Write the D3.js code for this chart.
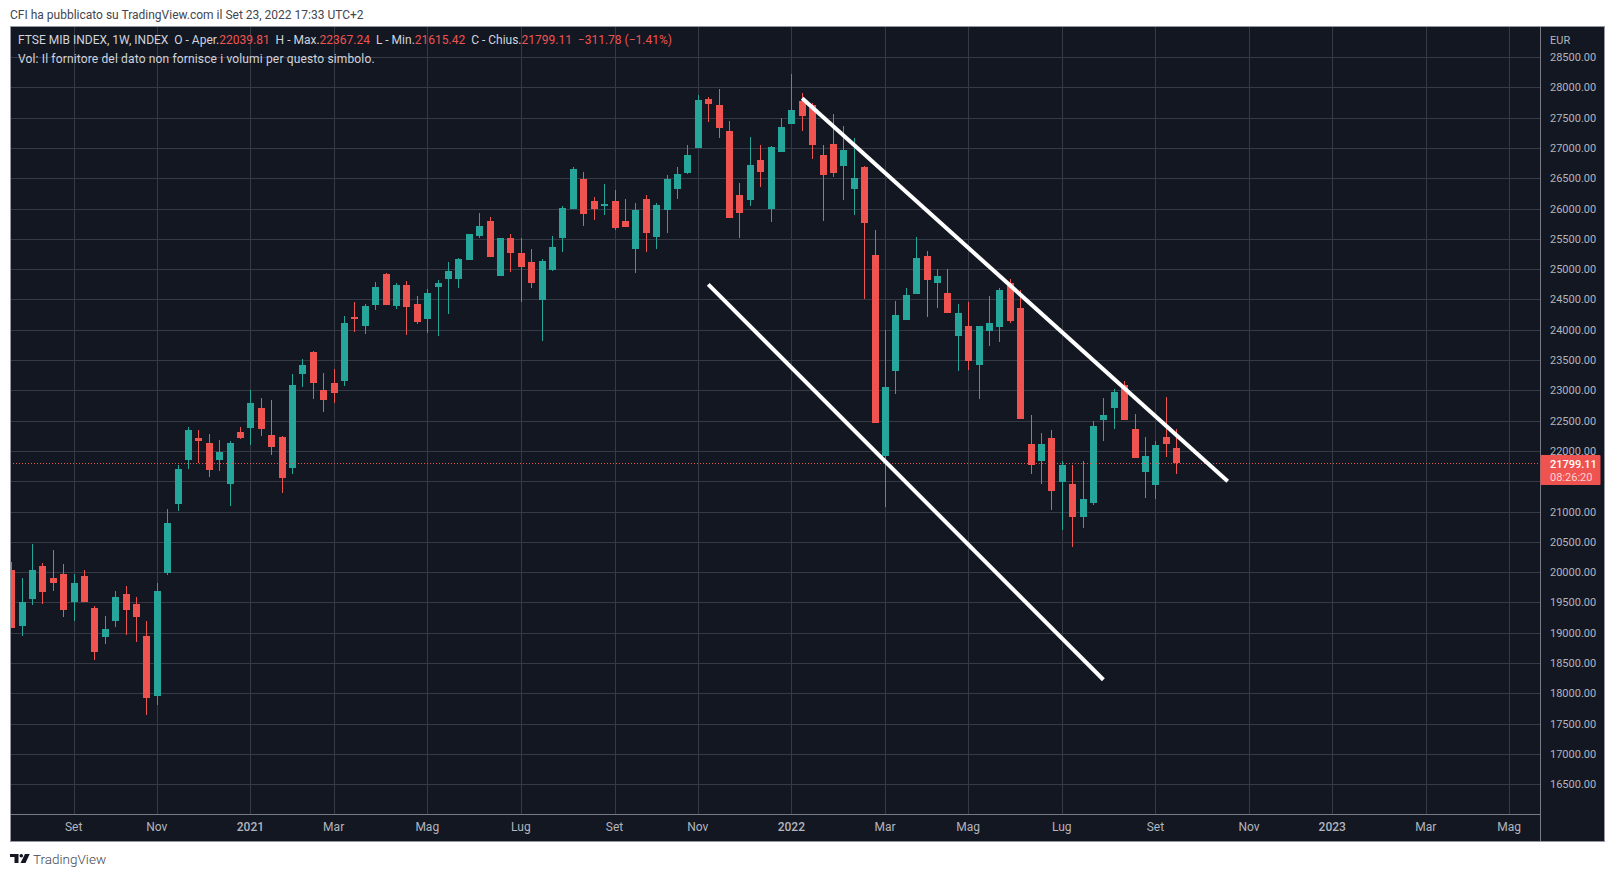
<!DOCTYPE html>
<html>
<head>
<meta charset="utf-8">
<title>FTSE MIB INDEX, 1W</title>
<script src="https://cdnjs.cloudflare.com/ajax/libs/d3/7.8.5/d3.min.js"></script>
<style>
html,body{margin:0;padding:0;background:#fff;overflow:hidden}
svg{display:block}
text{font-family:Roboto,"Open Sans",sans-serif}
</style>
</head>
<body>
<svg id="chart" width="1614" height="877"></svg>
<script>
// Weekly FTSE MIB candles, oldest first
const opens = [20037,19113,19558,20103,19905,19971,19509,19938,19410,18931,19196,19641,19476,18948,17958,19987,21123,21849,22212,22130,21849,21453,22311,22377,22707,22262,22228,21717,23268,23631,23004,23120,23153,24209,24060,24407,24918,24390,24737,24423,24180,24708,24840,24840,25153,25549,25796,24889,25516,25269,25120,24493,24988,25516,25994,26490,26126,26044,26126,25796,25334,26160,25532,25978,26325,26587,26999,27808,27708,27280,26223,26141,26801,25992,26933,27395,27774,27708,26883,27065,26702,26323,26686,25225,21908,23311,24152,24582,25209,24763,24598,23888,24054,23410,23971,24037,24775,24362,22118,21838,22217,21491,21458,20914,21144,22514,22712,23092,22366,21656,21442,22234,22039.81];
const highs = [20169,19905,20466,20152,20367,20136,19971,20037,19443,19278,19690,19773,19592,19196,19822,21044,21766,22394,22344,22278,22179,22163,22394,23004,22872,22839,22245,23268,23516,23648,23284,23350,24225,24456,24423,24786,24934,24770,24803,24555,24674,24823,25120,25186,25582,25929,25862,25516,25582,25516,25334,25170,25549,26044,26688,26605,26192,26407,26308,26159,26094,26225,26094,26555,26688,27048,27873,27841,27972,27445,26421,27180,27048,27032,27494,28220,27906,27736,27048,27560,27362,27164,26702,25637,23988,24466,24680,25522,25291,24994,24994,24416,24450,24054,24549,24680,24840,24659,22597,22300,22349,21838,21772,21838,22497,22877,23026,23158,22613,22234,22168,22894,22367.24];
const lows = [19080,18948,19460,19476,19690,19262,19196,19509,18552,18816,19097,18964,18849,17644,17810,19954,21007,21700,21794,21568,21668,21090,22196,22097,22245,21932,21305,21618,23054,22856,22641,22790,23070,23961,23928,24324,24407,24340,23911,24093,23949,23899,24262,24691,25153,25516,25203,24889,24955,24460,24691,23817,24972,25285,25994,25714,25813,25896,25648,25698,24938,25285,25334,25599,26160,26570,26999,27428,27164,25844,25514,26042,26355,25778,26933,27395,27280,26817,25795,26521,26141,25894,24507,22453,21067,22932,24152,24582,24202,24351,24268,23311,23327,22849,23724,23790,24115,22530,21623,21458,21029,20699,20419,20732,21112,22168,22366,22514,21887,21227,21211,21903,21615.42];
const closes = [19080,19509,20037,19674,19822,19377,19822,19509,18684,19064,19592,19377,19262,17925,19690,20812,21700,22344,22163,21684,21981,22130,22212,22790,22361,22064,21552,23087,23417,23120,22839,22954,24110,24176,24390,24703,24407,24737,24374,24126,24608,24774,24972,25170,25582,25714,25203,25516,25269,25037,24774,25137,25368,26011,26654,25912,25994,26077,25681,25698,25978,25599,26060,26490,26572,26883,27791,27725,27329,25844,25927,26719,26603,27015,27345,27626,27527,27048,26553,26587,26966,26504,25761,22453,23047,24235,24565,25175,24812,24879,24268,24268,23476,24054,24103,24647,24148,22530,21772,22118,21342,21772,20914,21211,22415,22597,22976,22514,21887,21920,22102,22110.89,21799.11];

// Time axis: week index of each label
const monthTicks = [6,14,23,31,40,49,58,66,75,84,92,101,110,119,127,136,144];
const monthLabels = ["Set","Nov","2021","Mar","Mag","Lug","Set","Nov","2022","Mar","Mag","Lug","Set","Nov","2023","Mar","Mag"];
const boldLabels = ["2021","2022","2023"];

// Price axis
const priceTicks = d3.range(16500, 28501, 500);
const lastPrice = 21799.11;
const countdown = "08:26:20";

// Drawn channel: week index and price at each end
const upperChannel = [[76.04,27818],[116.95,21500]];
const lowerChannel = [[67.01,24749],[105.0,18223]];

const colors = {
  pane:"#131722", grid:"#363a45", axis:"#787b86", border:"#9598a1",
  label:"#b2b5be", up:"#26a69a", down:"#ef5350", head:"#d1d4dc"
};

const pane = {left:10, right:1540, top:27, bottom:814, outerRight:1604, outerBottom:841};
const bodyWidth = 7;

const x = d3.scaleLinear().domain([0,112]).range([11.2,1176.2]);
const y = d3.scaleLinear().domain([28000,16500]).range([87.3,784.2]);
const px = i => Math.round(x(i)) + 0.5;
const py = v => Math.round(y(v));

const svg = d3.select("#chart");

svg.append("rect").attr("x",pane.left+0.5).attr("y",pane.top-0.5)
  .attr("width",pane.outerRight-pane.left).attr("height",pane.outerBottom-pane.top+1)
  .attr("fill",colors.pane).attr("stroke",colors.border);

svg.append("defs").append("clipPath").attr("id","plot").append("rect")
  .attr("x",pane.left+1).attr("y",pane.top)
  .attr("width",pane.right-pane.left-1).attr("height",pane.bottom-pane.top);

const plot = svg.append("g").attr("clip-path","url(#plot)");

// Grid
plot.append("g").selectAll("line").data(priceTicks).join("line")
  .attr("x1",pane.left).attr("x2",pane.right)
  .attr("y1",d=>py(d)+0.5).attr("y2",d=>py(d)+0.5)
  .attr("stroke",colors.grid);
plot.append("g").selectAll("line").data(monthTicks).join("line")
  .attr("x1",px).attr("x2",px)
  .attr("y1",pane.top).attr("y2",pane.bottom)
  .attr("stroke",colors.grid);

// Candles
const candles = opens.map((o,i)=>({i,o,h:highs[i],l:lows[i],c:closes[i]}));
const candle = plot.append("g").selectAll("g").data(candles).join("g")
  .attr("fill",d=>d.c<d.o?colors.down:colors.up)
  .attr("stroke",d=>d.c<d.o?colors.down:colors.up);
candle.append("line")
  .attr("x1",d=>px(d.i)).attr("x2",d=>px(d.i))
  .attr("y1",d=>py(d.h)).attr("y2",d=>py(d.l));
candle.append("rect")
  .attr("stroke","none")
  .attr("x",d=>px(d.i)-bodyWidth/2)
  .attr("width",bodyWidth)
  .attr("y",d=>py(Math.max(d.o,d.c)))
  .attr("height",d=>Math.max(1,py(Math.min(d.o,d.c))-py(Math.max(d.o,d.c))));

// Last price line
plot.append("line")
  .attr("x1",pane.left).attr("x2",pane.right)
  .attr("y1",py(lastPrice)+0.5).attr("y2",py(lastPrice)+0.5)
  .attr("stroke",colors.down).attr("stroke-dasharray","1 2");

// Channel lines
const channel = d3.line().x(d=>x(d[0])).y(d=>y(d[1]));
plot.append("g").selectAll("path").data([upperChannel,lowerChannel]).join("path")
  .attr("d",channel).attr("fill","none").attr("stroke","#fff").attr("stroke-width",4);

// Axis rules
svg.append("line").attr("x1",pane.right+0.5).attr("x2",pane.right+0.5)
  .attr("y1",pane.top).attr("y2",pane.outerBottom).attr("stroke",colors.axis);
svg.append("line").attr("x1",pane.left+1).attr("x2",pane.right)
  .attr("y1",pane.bottom+0.5).attr("y2",pane.bottom+0.5).attr("stroke",colors.axis);

// Price axis labels
const priceAxis = d3.axisRight(d3.scaleLinear().domain(y.domain()).range(y.range()))
  .tickValues(priceTicks).tickSize(0).tickPadding(0).tickFormat(d3.format(".2f"));
svg.append("g").attr("transform","translate(1550,0)").call(priceAxis)
  .call(g=>g.select(".domain").remove())
  .selectAll("text").attr("fill",colors.label).attr("font-size",11)
  .style("font-family","Roboto,sans-serif");
svg.append("text").attr("x",1550).attr("y",44).attr("fill",colors.label)
  .attr("font-size",11).text("EUR");

// Last price tag
svg.append("rect").attr("x",pane.right+0.5).attr("y",455).attr("width",60).attr("height",30)
  .attr("rx",1).attr("fill",colors.down);
svg.append("text").attr("x",1550).attr("y",468).attr("fill","#fff")
  .attr("font-size",11).attr("font-weight",500).text(d3.format(".2f")(lastPrice));
svg.append("text").attr("x",1550).attr("y",481).attr("fill","#fcd2d0")
  .attr("font-size",11).text(countdown);

// Time axis labels
const timeAxis = d3.axisBottom(d3.scaleLinear().domain(x.domain()).range(x.range()))
  .tickValues(monthTicks).tickSize(0).tickPadding(0)
  .tickFormat(d=>monthLabels[monthTicks.indexOf(d)]);
svg.append("g").attr("transform","translate(-0.5,822)").call(timeAxis)
  .call(g=>g.select(".domain").remove())
  .selectAll("text").attr("fill",colors.label).attr("font-size",12)
  .style("font-family","Roboto,sans-serif")
  .attr("font-weight",function(){return boldLabels.includes(this.textContent)?500:400;});

// Legend line over the pane
const legendParts = [
  ["FTSE MIB INDEX, 1W, INDEX  O - Aper.",colors.head],["22039.81",colors.down],
  ["  H - Max.",colors.head],["22367.24",colors.down],
  ["  L - Min.",colors.head],["21615.42",colors.down],
  ["  C - Chius.",colors.head],["21799.11  \u2212311.78 (\u22121.41%)",colors.down]
];
const legend = svg.append("text").attr("x",18).attr("y",44).attr("font-size",12)
  .attr("xml:space","preserve").style("white-space","pre");
legend.selectAll("tspan").data(legendParts).join("tspan")
  .attr("fill",d=>d[1]).text(d=>d[0]);
svg.append("text").attr("x",18).attr("y",63).attr("font-size",12).attr("fill",colors.head)
  .style("letter-spacing","0.15px")
  .text("Vol: Il fornitore del dato non fornisce i volumi per questo simbolo.");

// Page header and footer
svg.append("text").attr("x",10).attr("y",19).attr("font-size",12).attr("fill","#434651")
  .text("CFI ha pubblicato su TradingView.com il Set 23, 2022 17:33 UTC+2");
const logo = svg.append("g").attr("fill",colors.pane);
logo.append("path").attr("d","M10 854h8.5v9h-4v-6H10z");
logo.append("circle").attr("cx",21.3).attr("cy",855.8).attr("r",1.8);
logo.append("path").attr("d","M25 854h4.7l-4.2 9h-5z");
svg.append("text").attr("x",33).attr("y",864).attr("font-size",13.5).attr("font-weight",300)
  .attr("fill","#434651").text("TradingView");
</script>
</body>
</html>
